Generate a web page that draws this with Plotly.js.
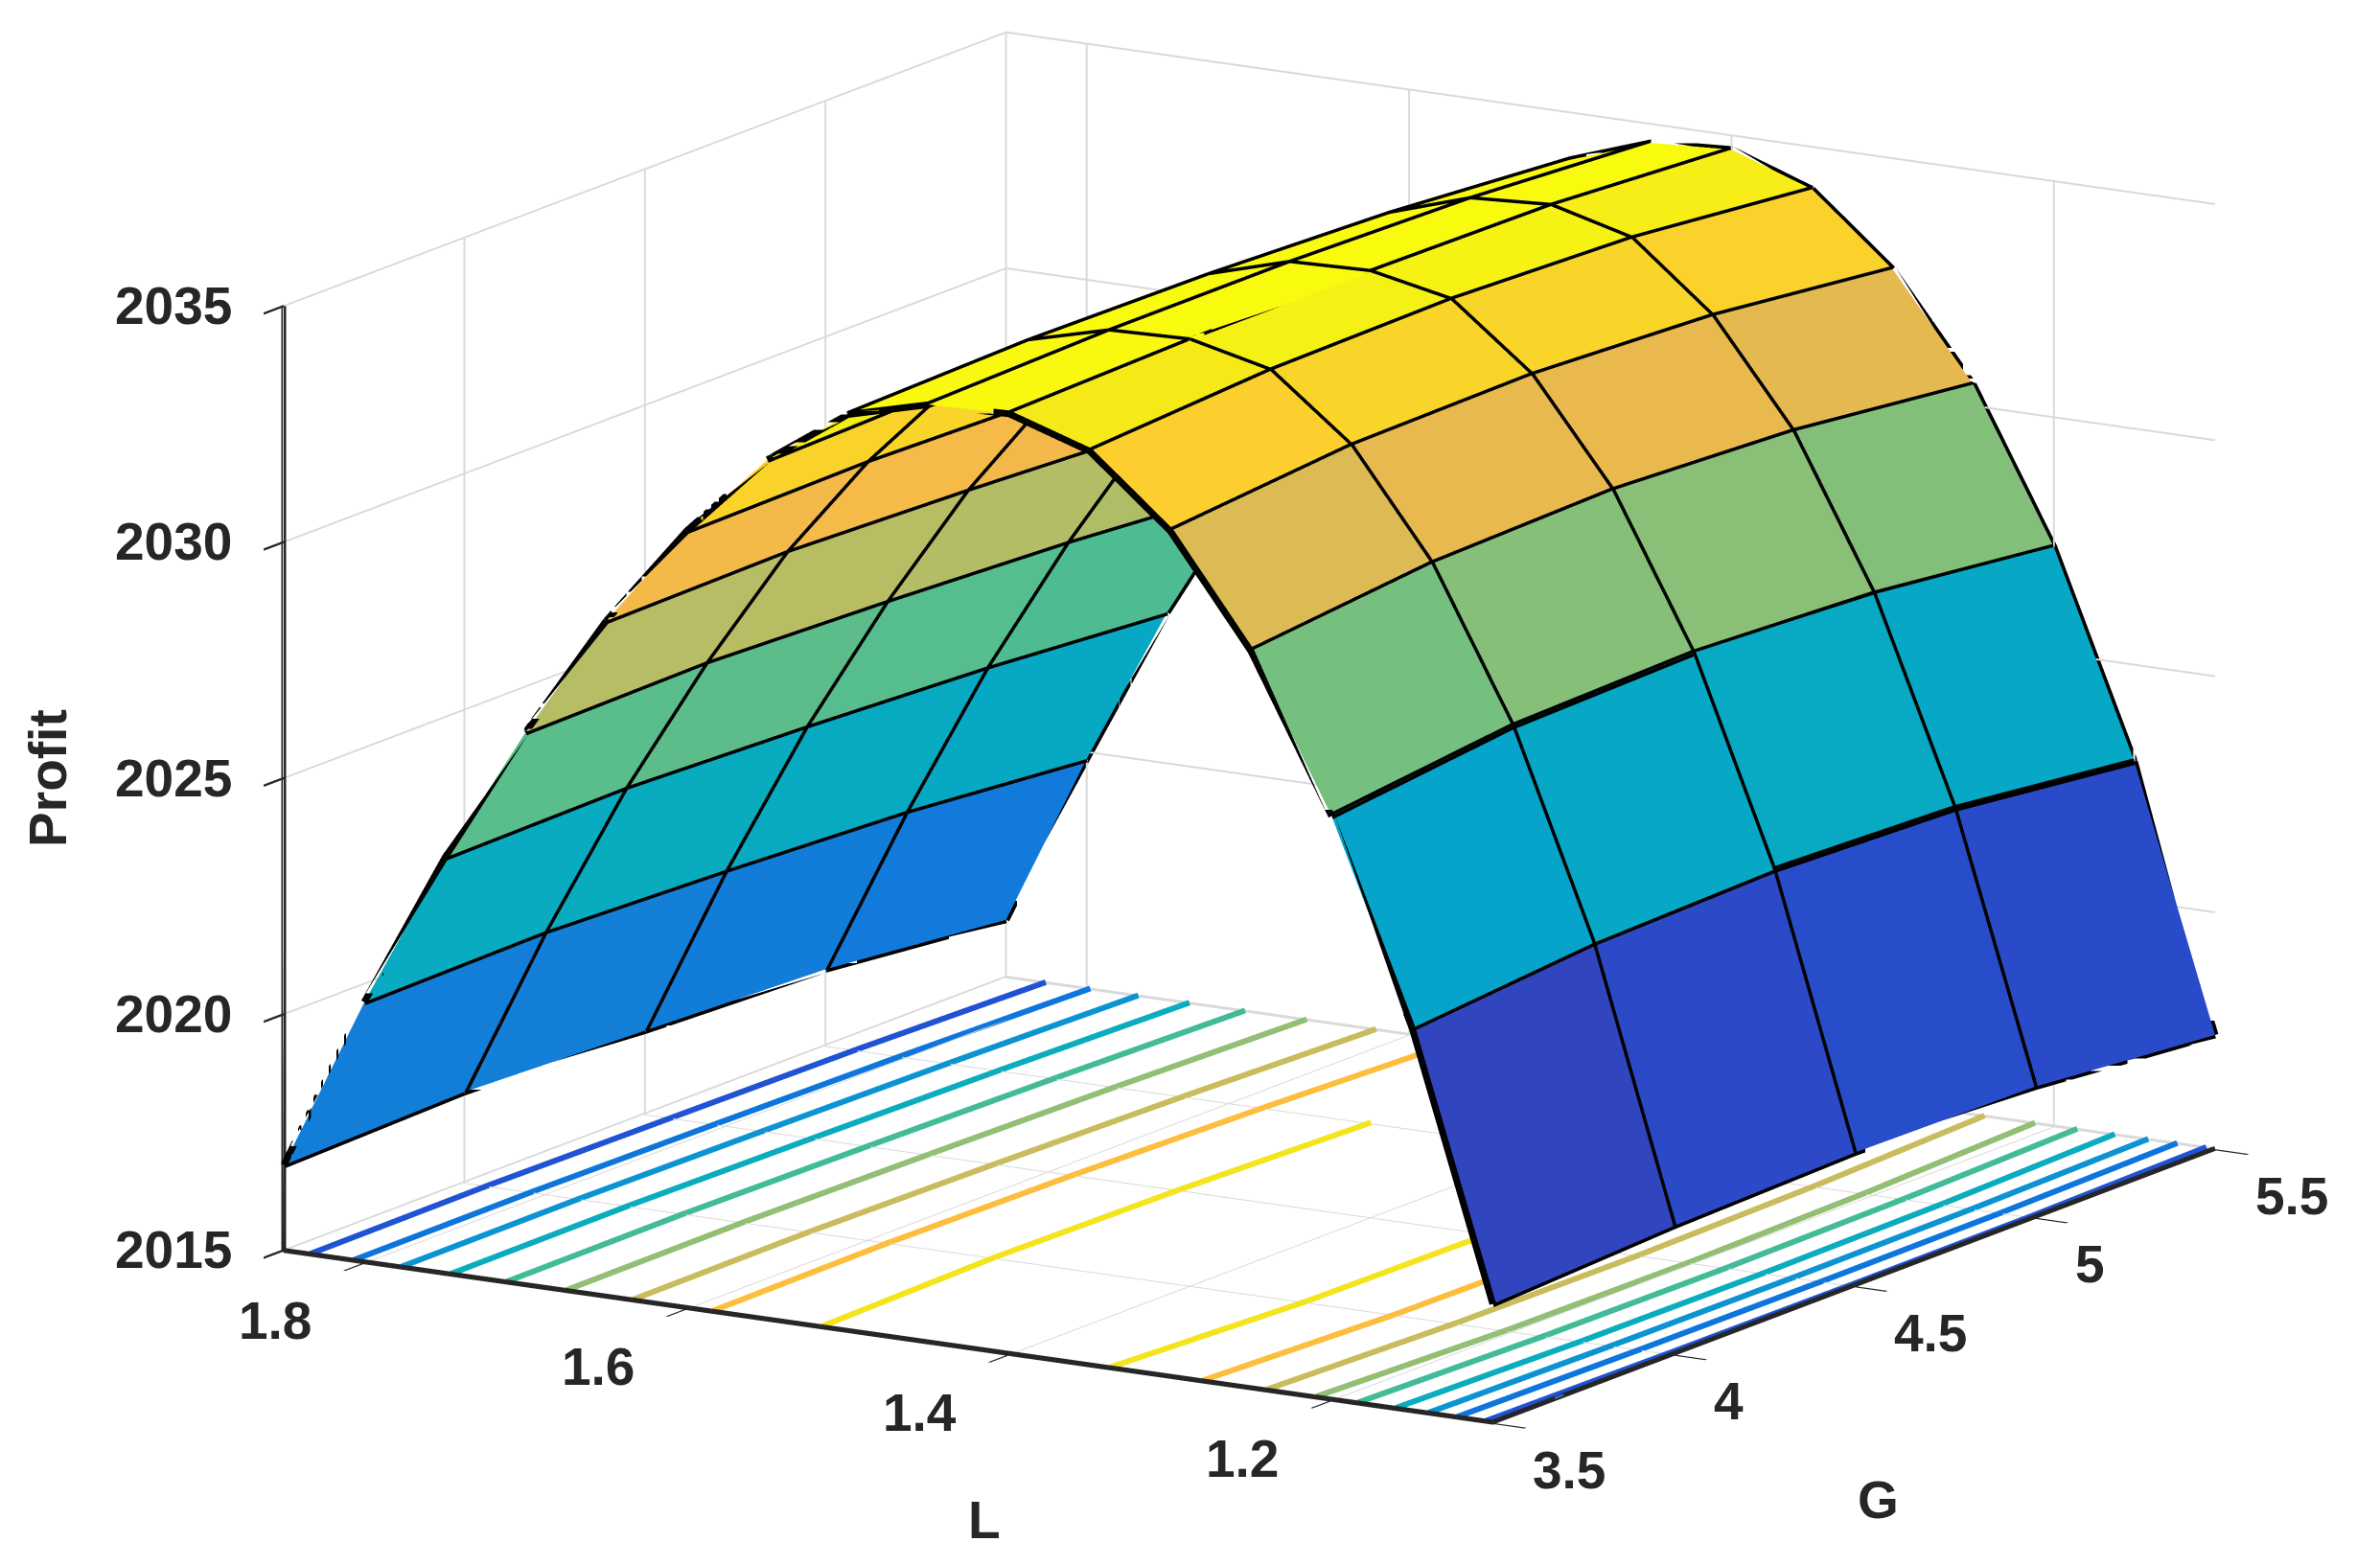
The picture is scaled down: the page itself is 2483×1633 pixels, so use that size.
<!DOCTYPE html>
<html><head><meta charset="utf-8">
<script src="https://cdn.plot.ly/plotly-3.0.1.min.js"></script>
<style>html,body{margin:0;padding:0;background:#fff;} #chart{width:2483px;height:1633px;} #dbg{position:absolute;left:10px;top:10px;font:30px sans-serif;color:red;z-index:10}</style>
</head><body><div id="dbg"></div><div id="chart"></div>
<script>
window.onerror = function(m){ document.getElementById('dbg').textContent += ' ERR: ' + m; };
// ---- data ----
const G = [3.5, 4.0, 4.5, 5.0, 5.5];
const L = [1.10, 1.15, 1.20, 1.25, 1.30, 1.35, 1.40, 1.45, 1.50, 1.55, 1.60, 1.65, 1.70, 1.75, 1.80, 1.85];
// profit[i][j] : L[i], G[j]
const profit = [
  [2017.50, 2017.70, 2017.80, 2017.75, 2017.40],
  [2023.10, 2023.45, 2023.55, 2023.40, 2022.95],
  [2027.35, 2027.80, 2027.90, 2027.70, 2027.25],
  [2030.60, 2031.00, 2031.10, 2030.90, 2030.45],
  [2032.90, 2033.25, 2033.30, 2033.10, 2032.65],
  [2034.35, 2034.60, 2034.65, 2034.50, 2034.10],
  [2034.90, 2035.00, 2035.00, 2034.95, 2034.70],
  [2034.85, 2034.95, 2034.95, 2034.85, 2034.60],
  [2034.40, 2034.50, 2034.45, 2034.30, 2034.00],
  [2033.20, 2033.30, 2033.20, 2033.00, 2032.70],
  [2031.45, 2031.50, 2031.40, 2031.20, 2030.90],
  [2029.30, 2029.35, 2029.20, 2029.00, 2028.70],
  [2026.70, 2026.75, 2026.60, 2026.40, 2026.10],
  [2023.80, 2023.85, 2023.70, 2023.50, 2023.20],
  [2020.50, 2020.55, 2020.40, 2020.20, 2019.85],
  [2016.80, 2016.90, 2016.75, 2016.60, 2016.20]
];
const contourLevels = [2018, 2020, 2022, 2024, 2026, 2028, 2030, 2032, 2034];
const zTicks = [2015, 2020, 2025, 2030, 2035];
const LTicks = [1.2, 1.4, 1.6, 1.8];
const GTicks = [3.5, 4, 4.5, 5, 5.5];
const zRange = [2015, 2035];
const GRange = [3.5, 5.5];
const LRange = [1.1, 1.85];

// ---- MATLAB parula (64) ----
const parula = [[0.2081,0.1663,0.5292],[0.2116,0.1898,0.5777],[0.2123,0.2138,0.6270],[0.2081,0.2386,0.6771],[0.1959,0.2645,0.7279],[0.1707,0.2919,0.7792],[0.1253,0.3242,0.8303],[0.0591,0.3598,0.8683],[0.0117,0.3875,0.8820],[0.0060,0.4086,0.8828],[0.0165,0.4266,0.8786],[0.0329,0.4430,0.8720],[0.0498,0.4586,0.8641],[0.0629,0.4737,0.8554],[0.0723,0.4887,0.8467],[0.0779,0.5040,0.8384],[0.0793,0.5200,0.8312],[0.0749,0.5375,0.8263],[0.0641,0.5570,0.8240],[0.0488,0.5772,0.8228],[0.0343,0.5966,0.8199],[0.0265,0.6137,0.8135],[0.0239,0.6287,0.8038],[0.0231,0.6418,0.7913],[0.0228,0.6535,0.7768],[0.0267,0.6642,0.7607],[0.0384,0.6743,0.7436],[0.0590,0.6838,0.7254],[0.0843,0.6928,0.7062],[0.1133,0.7015,0.6859],[0.1453,0.7098,0.6646],[0.1801,0.7177,0.6424],[0.2178,0.7250,0.6193],[0.2586,0.7317,0.5954],[0.3022,0.7376,0.5712],[0.3482,0.7424,0.5473],[0.3953,0.7459,0.5244],[0.4420,0.7481,0.5033],[0.4871,0.7491,0.4840],[0.5300,0.7491,0.4661],[0.5709,0.7485,0.4494],[0.6099,0.7473,0.4337],[0.6473,0.7456,0.4188],[0.6834,0.7435,0.4044],[0.7184,0.7411,0.3905],[0.7525,0.7384,0.3768],[0.7858,0.7356,0.3633],[0.8185,0.7327,0.3498],[0.8507,0.7299,0.3360],[0.8824,0.7274,0.3217],[0.9139,0.7258,0.3063],[0.9450,0.7261,0.2886],[0.9739,0.7314,0.2666],[0.9938,0.7455,0.2403],[0.9990,0.7653,0.2164],[0.9955,0.7861,0.1967],[0.9880,0.8066,0.1794],[0.9789,0.8271,0.1633],[0.9697,0.8481,0.1475],[0.9626,0.8705,0.1309],[0.9589,0.8949,0.1132],[0.9598,0.9218,0.0948],[0.9661,0.9514,0.0755],[0.9763,0.9831,0.0538]];
const rgb = c => 'rgb(' + c.map(v => Math.round(v * 255)).join(',') + ')';
const colorscale = parula.map((c, k) => [k / (parula.length - 1), rgb(c)]);

const allZ = profit.flat();
const cmin = Math.min(...allZ), cmax = Math.max(...allZ);
function colorOf(v) {
  let k = Math.floor((v - cmin) / (cmax - cmin) * parula.length);
  k = Math.max(0, Math.min(parula.length - 1, k));
  return rgb(parula[k]);
}

// ---- faceted surface (flat colour per cell, like MATLAB surf) ----
const vx = [], vy = [], vz = [];
const idx = (i, j) => i * G.length + j;
for (let i = 0; i < L.length; i++) for (let j = 0; j < G.length; j++) {
  vx.push(G[j]); vy.push(L[i]); vz.push(profit[i][j]);
}
const I = [], J = [], K = [], cellVal = [];
for (let i = 0; i < L.length - 1; i++) for (let j = 0; j < G.length - 1; j++) {
  const a = idx(i, j), b = idx(i + 1, j), c = idx(i + 1, j + 1), d = idx(i, j + 1);
  I.push(a, a); J.push(b, c); K.push(c, d);
  cellVal.push(profit[i][j], profit[i][j]);
}
const mesh = {
  type: 'mesh3d', x: vx, y: vy, z: vz, i: I, j: J, k: K,
  intensity: cellVal, intensitymode: 'cell', colorscale: colorscale,
  cmin: cmin, cmax: cmax, showscale: false, flatshading: true,
  lighting: {ambient: 1, diffuse: 0, specular: 0, roughness: 1, fresnel: 0},
  hoverinfo: 'skip'
};

// ---- black facet edges ----
const ex = [], ey = [], ez = [];
for (let i = 0; i < L.length; i++) {
  for (let j = 0; j < G.length; j++) { ex.push(G[j]); ey.push(L[i]); ez.push(profit[i][j]); }
  ex.push(null); ey.push(null); ez.push(null);
}
for (let j = 0; j < G.length; j++) {
  for (let i = 0; i < L.length; i++) { ex.push(G[j]); ey.push(L[i]); ez.push(profit[i][j]); }
  ex.push(null); ey.push(null); ez.push(null);
}
const edges = {
  type: 'scatter3d', mode: 'lines', x: ex, y: ey, z: ez,
  line: {color: '#000000', width: 14}, connectgaps: false, hoverinfo: 'skip', showlegend: false
};

// ---- contour lines on the floor (surfc) ----
function contourSegments(level) {
  const xs = [], ys = [];
  for (let i = 0; i < L.length - 1; i++) for (let j = 0; j < G.length - 1; j++) {
    const corners = [[i, j], [i + 1, j], [i + 1, j + 1], [i, j + 1]];
    const pts = [];
    for (let e = 0; e < 4; e++) {
      const p = corners[e], q = corners[(e + 1) % 4];
      const za = profit[p[0]][p[1]], zb = profit[q[0]][q[1]];
      if ((za - level) * (zb - level) < 0) {
        const t = (level - za) / (zb - za);
        pts.push([G[p[1]] + t * (G[q[1]] - G[p[1]]), L[p[0]] + t * (L[q[0]] - L[p[0]])]);
      }
    }
    for (let s = 0; s + 1 < pts.length; s += 2) {
      xs.push(pts[s][0], pts[s + 1][0], null);
      ys.push(pts[s][1], pts[s + 1][1], null);
    }
  }
  return [xs, ys];
}
const contourTraces = contourLevels.map(v => {
  const res = contourSegments(v);
  return {
    type: 'scatter3d', mode: 'lines', x: res[0], y: res[1],
    z: res[0].map(x => x === null ? null : zRange[0]),
    line: {color: colorOf(v), width: 12}, connectgaps: false, hoverinfo: 'skip', showlegend: false
  };
});

// ---- front axis lines (drawn from the axis ranges) ----
const axisLines = {
  type: 'scatter3d', mode: 'lines',
  x: [GRange[0], GRange[0], null, GRange[0], GRange[0], null, GRange[0], GRange[1]],
  y: [LRange[1], LRange[1], null, LRange[1], LRange[0], null, LRange[0], LRange[0]],
  z: [zRange[0], zRange[1], null, zRange[0], zRange[0], null, zRange[0], zRange[0]],
  line: {color: '#262626', width: 10}, connectgaps: false, hoverinfo: 'skip', showlegend: false
};

// ---- labels (horizontal, as in MATLAB) placed at data positions ----
const lblFont = {family: 'Liberation Sans, Arial, sans-serif', color: '#262626', size: 55, weight: 'bold'};
const ann = [];
zTicks.forEach(t => ann.push({x: GRange[0], y: LRange[1], z: t, text: String(t), showarrow: false,
  xanchor: 'right', yanchor: 'middle', xshift: -52, yshift: 0, font: lblFont}));
LTicks.forEach(t => ann.push({x: GRange[0], y: t, z: zRange[0], text: String(t), showarrow: false,
  xanchor: 'center', yanchor: 'middle', xshift: -93, yshift: -62, font: lblFont}));
GTicks.forEach(t => ann.push({x: t, y: LRange[0], z: zRange[0], text: String(t), showarrow: false,
  xanchor: 'left', yanchor: 'middle', xshift: 40, yshift: -50, font: lblFont}));
ann.push({x: GRange[0], y: (LRange[0] + LRange[1]) / 2, z: zRange[0], text: 'L', showarrow: false,
  xanchor: 'center', yanchor: 'middle', xshift: 100, yshift: -192, font: lblFont});
ann.push({x: (GRange[0] + GRange[1]) / 2, y: LRange[0], z: zRange[0], text: 'G', showarrow: false,
  xanchor: 'center', yanchor: 'middle', xshift: 25, yshift: -224, font: lblFont});
ann.push({x: GRange[0], y: LRange[1], z: (zRange[0] + zRange[1]) / 2, text: 'Profit', showarrow: false,
  xanchor: 'center', yanchor: 'middle', xshift: -246, yshift: 0, textangle: -90, font: lblFont});

// ---- layout ----
function axis(extra) {
  return Object.assign({
    showbackground: false, showgrid: true, gridcolor: '#d9d9d9', gridwidth: 4,
    zeroline: false, showline: true, linecolor: '#262626', linewidth: 5,
    ticks: 'outside', ticklen: 40, tickwidth: 5, tickcolor: '#262626',
    showticklabels: false, showspikes: false, title: {text: ''}
  }, extra);
}
const s = 1.9;
const r = 3.0;
const layout = {
  width: 2483, height: 1633, paper_bgcolor: '#ffffff',
  margin: {l: 0, r: 0, t: 0, b: 0},
  showlegend: false,
  scene: {
    domain: {x: [0.05, 1.0], y: [0.07, 1.0]},
    xaxis: axis({range: GRange, tickvals: GTicks}),
    yaxis: axis({range: LRange, tickvals: LTicks}),
    zaxis: axis({range: [zRange[0] - 0.03, zRange[1]], tickvals: zTicks}),
    aspectmode: 'manual',
    aspectratio: {x: 1 * s, y: 1.025 * s, z: 0.703 * s},
    camera: {
      projection: {type: 'orthographic'},
      up: {x: 0, y: 0, z: 1},
      center: {x: 0, y: 0, z: 0},
      eye: {x: -0.8295 * r, y: -0.5080 * r, z: 0.2321 * r}
    },
    annotations: ann
  }
};
Plotly.newPlot('chart', [mesh, edges, axisLines].concat(contourTraces), layout, {displayModeBar: false})
  .catch(function(e){ document.getElementById('dbg').textContent += ' CATCH ' + e; });
</script>
</body></html>
